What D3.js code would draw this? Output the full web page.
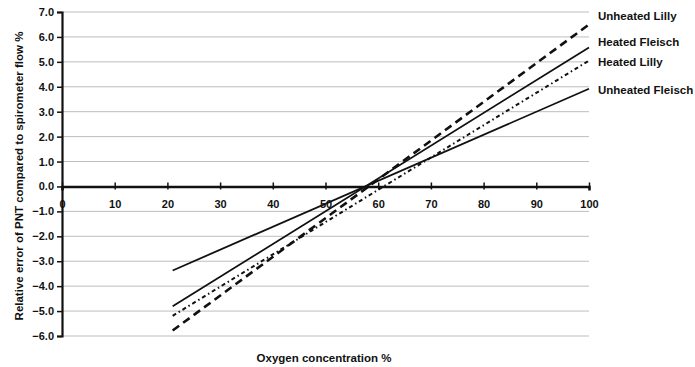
<!DOCTYPE html>
<html>
<head>
<meta charset="utf-8">
<script src="https://cdn.jsdelivr.net/npm/d3@7"></script>
<style>
  body { margin: 0; background: #fff; }
  text { font-family: "Liberation Sans", Arial, sans-serif; font-weight: bold; fill: #111; }
</style>
</head>
<body>
<svg id="chart" width="695" height="367"></svg>
<script>
// data
const seriesNames = ["Unheated Lilly", "Heated Fleisch", "Heated Lilly", "Unheated Fleisch"]
const oxygen = [21, 100]
const unheatedLilly = [-5.78, 6.5]
const heatedFleisch = [-4.81, 5.58]
const heatedLilly = [-5.19, 5.05]
const unheatedFleisch = [-3.37, 3.92]
const xTicks = [0, 10, 20, 30, 40, 50, 60, 70, 80, 90, 100]
const yTicks = [7, 6, 5, 4, 3, 2, 1, 0, -1, -2, -3, -4, -5, -6]

const svg = d3.select("#chart")

const x = d3.scaleLinear().domain([0, 100]).range([62, 589])
const y = d3.scaleLinear().domain([-6, 7]).range([336, 12])

// grid
svg.append("g")
  .selectAll("line")
  .data(yTicks.filter(d => d !== 0))
  .enter()
  .append("line")
  .attr("x1", x(0))
  .attr("x2", x(100))
  .attr("y1", d => y(d))
  .attr("y2", d => y(d))
  .style("stroke", "#bdbdbd")
  .style("stroke-width", 1)

// y axis
const yAxis = svg.append("g")
  .attr("transform", `translate(${x(0)},0)`)
  .call(d3.axisLeft(y).tickValues(yTicks).tickFormat(d3.format(".1f")).tickSize(5).tickPadding(3))
yAxis.select(".domain").style("stroke", "#111").style("stroke-width", 2.2)
yAxis.selectAll(".tick line").style("stroke", "#111").style("stroke-width", 1.5)
yAxis.selectAll("text").style("font-size", "11px").style("font-family", "Liberation Sans, Arial, sans-serif").style("font-weight", "bold").attr("fill", "#111")

// x axis on zero line
const xAxis = svg.append("g")
  .attr("transform", `translate(0,${y(0)})`)
  .call(d3.axisBottom(x).tickValues(xTicks).tickSize(4).tickPadding(10))
xAxis.select(".domain").style("stroke", "#111").style("stroke-width", 2.5)
xAxis.selectAll(".tick line").attr("y1", -4).attr("y2", 3).style("stroke", "#111").style("stroke-width", 1.5)
xAxis.selectAll("text").style("font-size", "11px").style("font-family", "Liberation Sans, Arial, sans-serif").style("font-weight", "bold").attr("fill", "#111")

// series
const series = [
  { name: seriesNames[0], values: unheatedLilly, dash: "8,5", width: 2.6 },
  { name: seriesNames[1], values: heatedFleisch, dash: null, width: 1.8 },
  { name: seriesNames[2], values: heatedLilly, dash: "4,3,1.5,3", width: 2 },
  { name: seriesNames[3], values: unheatedFleisch, dash: null, width: 1.8 }
]

const line = d3.line()
  .x(d => x(d[0]))
  .y(d => y(d[1]))

svg.append("g")
  .selectAll("path")
  .data(series)
  .enter()
  .append("path")
  .attr("d", d => line(oxygen.map((o, i) => [o, d.values[i]])))
  .style("fill", "none")
  .style("stroke", "#111")
  .style("stroke-width", d => d.width)
  .style("stroke-dasharray", d => d.dash)

// labels at the right end
const labelY = [16, 42, 62, 90]
svg.append("g")
  .selectAll("text")
  .data(series)
  .enter()
  .append("text")
  .attr("x", 598)
  .attr("y", (d, i) => labelY[i])
  .attr("dy", "0.35em")
  .style("font-size", "11.5px")
  .text(d => d.name)

// axis titles
svg.append("text")
  .attr("text-anchor", "middle")
  .attr("transform", `translate(23, 176) rotate(-90)`)
  .style("font-size", "11.5px")
  .text("Relative error of PNT compared to spirometer flow %")

svg.append("text")
  .attr("text-anchor", "middle")
  .attr("x", 324)
  .attr("y", 362)
  .style("font-size", "11.5px")
  .text("Oxygen concentration %")
</script>
</body>
</html>
